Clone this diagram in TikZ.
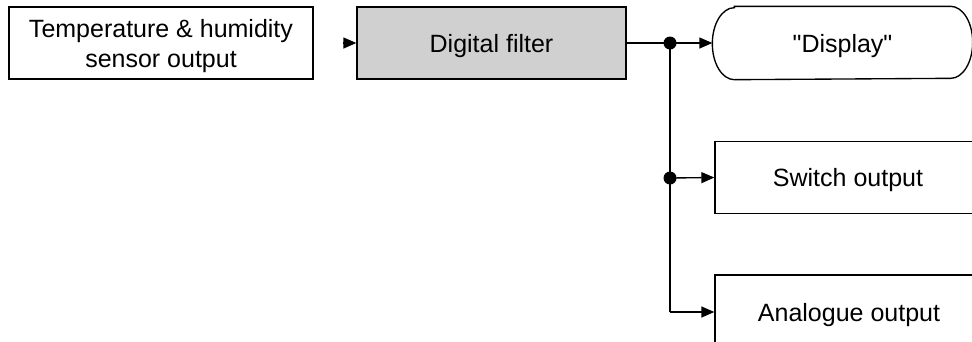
\documentclass[tikz,border=0pt]{standalone}
\usepackage{fontspec}
\setmainfont{Liberation Sans}[Ligatures=TeXOff]
\usetikzlibrary{arrows.meta}
\definecolor{filtergray}{RGB}{208,208,208}
\begin{document}
\begin{tikzpicture}[x=1pt,y=1pt, line width=1.35pt,
  box/.style={draw, rectangle, minimum height=72pt, inner sep=0pt, align=center,
    text depth=0pt, font=\fontsize{25}{30}\selectfont},
  arr/.style={-{Triangle[length=13pt,width=11pt]}},
  dot/.style={circle, fill, inner sep=0pt, minimum size=13pt}]
\useasboundingbox (0,0) rectangle (972,-341);
\clip (0,0) rectangle (972,-341);
\node[box, minimum width=304pt] (sensor) at (161,-43) {Temperature \& humidity\\sensor output};
\node[box, minimum width=269pt, fill=filtergray] (filter) at (491.5,-43) {Digital filter};
\node[box, draw=none, minimum width=259pt] (display) at (842.5,-43) {"Display"};
\draw ([xshift=22pt]display.north west) -- ([xshift=-22pt]display.north east)
  arc[start angle=90,end angle=-90,x radius=22,y radius=36]
  -- ([xshift=22pt]display.south west)
  arc[start angle=270,end angle=90,x radius=22,y radius=36] -- cycle;
\node[box, minimum width=266pt] (switch) at (848,-177.5) {Switch output};
\node[box, minimum width=268pt, minimum height=74pt] (analogue) at (849,-312) {Analogue output};
\coordinate (in) at (343,-43);
\coordinate (j1) at (670,-43);
\coordinate (j2) at (670,-178);
\coordinate (j3) at (670,-312);
\draw[arr] (in) -- (filter.west);
\draw (filter.east) -- (j1);
\draw[arr] (j1) -- (display.west);
\draw (j1) -- (j3);
\draw[arr] (j3) -- (analogue.west);
\draw[arr] (j2) -- (switch.west);
\node[dot] (d1) at (j1) {};
\node[dot] (d2) at (j2) {};
\end{tikzpicture}
\end{document}
